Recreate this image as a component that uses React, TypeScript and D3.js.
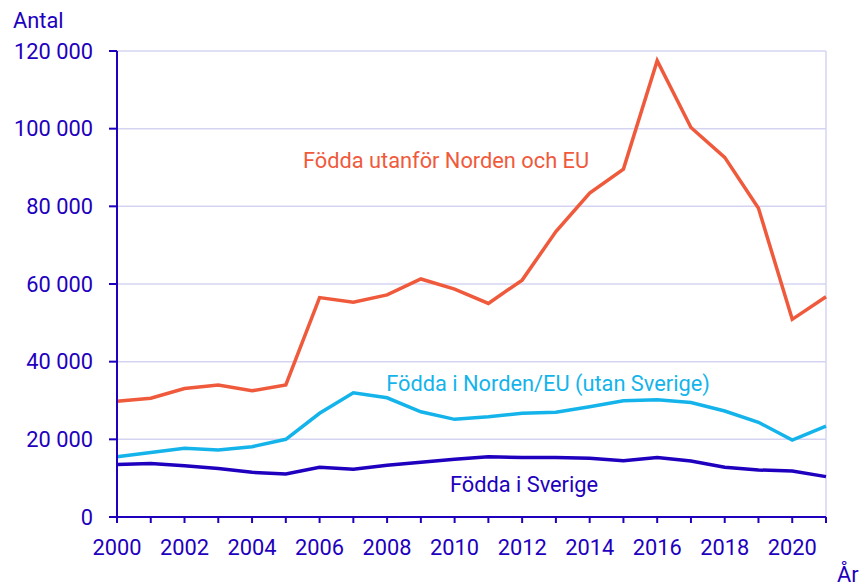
import React from "react";
import * as d3 from "d3";

const years = d3.range(2000, 2022);
const utanfor = [29800, 30600, 33100, 34000, 32500, 34000, 56500, 55300, 57200, 61300, 58700, 55000, 61000, 73500, 83400, 89600, 117500, 100300, 92600, 79500, 50900, 56700];
const nordenEU = [15500, 16600, 17700, 17250, 18100, 20000, 26700, 32000, 30700, 27100, 25150, 25800, 26700, 27000, 28400, 29950, 30200, 29500, 27300, 24400, 19800, 23400];
const sverige = [13550, 13800, 13200, 12500, 11500, 11100, 12800, 12300, 13300, 14100, 14850, 15500, 15300, 15300, 15100, 14500, 15300, 14400, 12800, 12100, 11850, 10400];
const yTicks = [0, 20000, 40000, 60000, 80000, 100000, 120000];
const xLabels = [2000, 2002, 2004, 2006, 2008, 2010, 2012, 2014, 2016, 2018, 2020];

const series = [
  { name: "Födda utanför Norden och EU", values: utanfor, color: "#F05A3C", lx: 446, ly: 168 },
  { name: "Födda i Norden/EU (utan Sverige)", values: nordenEU, color: "#14B4EB", lx: 548, ly: 391 },
  { name: "Födda i Sverige", values: sverige, color: "#1E00BE", lx: 524, ly: 492 },
];

const W = 866, H = 585;
const left = 117, right = 826, top = 51, bottom = 517;
const axisColor = "#1E00BE";
const gridColor = "#D4D4F2";
const font = "Roboto, sans-serif";
const fs = 21.8;

const fmt = (v: number) => (v === 0 ? "0" : d3.format(",")(v).replace(/,/g, " "));

export default function App() {
  const x = d3.scaleLinear().domain([2000, 2021]).range([left, right]);
  const y = d3.scaleLinear().domain([0, 120000]).range([bottom, top]);
  const line = d3.line<number>().x((_, i) => x(years[i])).y((d) => y(d));
  return (
    <svg width={W} height={H} style={{ position: "absolute", left: 0, top: 0 }} fontFamily={font}>
      {yTicks.filter((t) => t > 0).map((t) => (
        <line key={t} x1={left} x2={right} y1={y(t)} y2={y(t)} stroke={gridColor} strokeWidth={1.5} />
      ))}
      <line x1={right} x2={right} y1={top} y2={bottom} stroke={gridColor} strokeWidth={1.5} />
      {series.map((s) => (
        <path key={s.name} d={line(s.values) || ""} fill="none" stroke={s.color} strokeWidth={3.5} strokeLinejoin="miter" />
      ))}
      <line x1={left} x2={left} y1={top} y2={bottom} stroke={axisColor} strokeWidth={2} />
      <line x1={left - 1} x2={right} y1={bottom} y2={bottom} stroke={axisColor} strokeWidth={2} />
      {yTicks.map((t) => (
        <g key={t}>
          <line x1={left - 8} x2={left} y1={y(t)} y2={y(t)} stroke={axisColor} strokeWidth={2} />
          <text x={93} y={y(t)} dy="0.35em" textAnchor="end" fontSize={fs} fill={axisColor}>{fmt(t)}</text>
        </g>
      ))}
      {years.map((yr) => (
        <line key={yr} x1={x(yr)} x2={x(yr)} y1={bottom} y2={bottom + 6} stroke={axisColor} strokeWidth={2} />
      ))}
      {xLabels.map((yr) => (
        <text key={yr} x={x(yr)} y={555} textAnchor="middle" fontSize={fs} fill={axisColor}>{yr}</text>
      ))}
      <text x={13} y={28} fontSize={fs} fill={axisColor}>Antal</text>
      <text x={837} y={582} fontSize={fs} fill={axisColor}>År</text>
      {series.map((s) => (
        <text key={s.name + "l"} x={s.lx} y={s.ly} textAnchor="middle" fontSize={fs} fill={s.color}>{s.name}</text>
      ))}
    </svg>
  );
}
